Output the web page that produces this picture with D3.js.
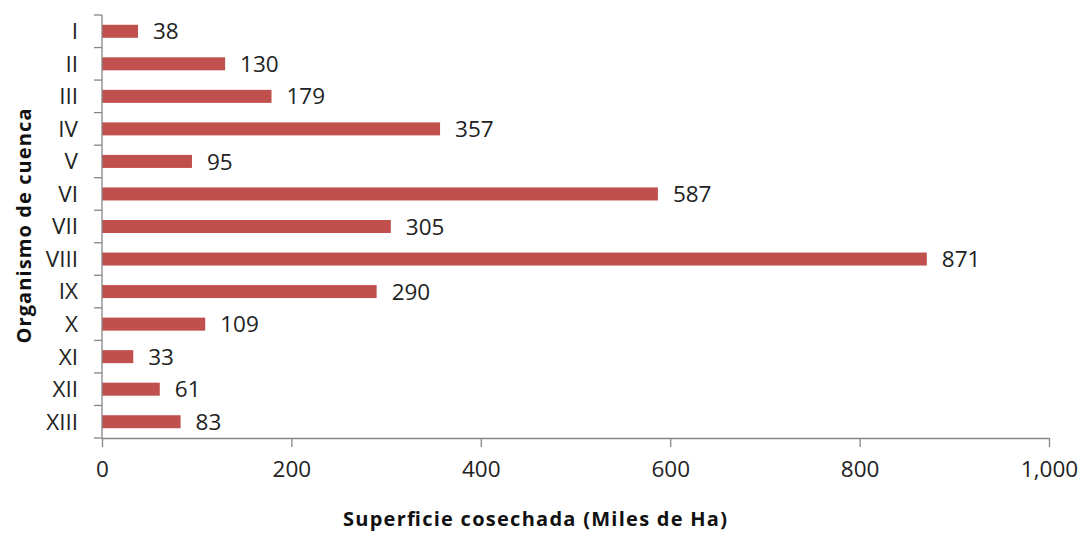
<!DOCTYPE html>
<html><head><meta charset="utf-8">
<script src="https://cdn.jsdelivr.net/npm/d3@7"></script>
<style>body{margin:0;background:#fff}svg{display:block}</style>
</head><body>
<svg id="c" width="1081" height="533"></svg>
<script>
const categories = ["I","II","III","IV","V","VI","VII","VIII","IX","X","XI","XII","XIII"];
const values = [38,130,179,357,95,587,305,871,290,109,33,61,83];
const xTicks = [0,200,400,600,800,1000];
const xTitle = "Superficie cosechada (Miles de Ha)";
const yTitle = "Organismo de cuenca";

const svg = d3.select("#c");
const m = {l:102, r:1049, t:15, b:438};
const x = d3.scaleLinear().domain([0,1000]).range([m.l, m.r]);
const y = d3.scaleBand().domain(categories).range([m.t, m.b]).paddingInner(0.6).paddingOuter(0.3);
const yb = d3.scaleBand().domain(categories).range([m.t, m.b]);
const font = "'Open Sans', sans-serif";
const axisColor = "#868686";
const fs = 22.5;

svg.append("g").selectAll("rect").data(values).join("rect")
  .attr("x", x(0)).attr("y", (d,i)=>y(categories[i]))
  .attr("width", d=>x(d)-x(0)).attr("height", y.bandwidth())
  .attr("fill", "#C0504D");

// x axis
const gx = svg.append("g").attr("transform", `translate(0,${m.b})`)
  .call(d3.axisBottom(x).tickValues(xTicks).tickSize(9).tickSizeOuter(0).tickPadding(14)
    .tickFormat(d3.format(",")));
gx.select(".domain").attr("stroke", axisColor).attr("stroke-width",1.3);
gx.selectAll(".tick line").attr("stroke", axisColor).attr("stroke-width",1.3);
gx.selectAll(".tick text").attr("font-family", font).attr("font-size", fs).attr("fill","#222");

// y axis
svg.append("line").attr("x1", m.l).attr("x2", m.l).attr("y1", m.t).attr("y2", m.b)
  .attr("stroke", axisColor).attr("stroke-width",1.3);
const bounds = categories.map(c=>yb(c)).concat([m.b]);
svg.append("g").selectAll("line").data(bounds).join("line")
  .attr("x1", m.l-8).attr("x2", m.l).attr("y1", d=>d).attr("y2", d=>d)
  .attr("stroke", axisColor).attr("stroke-width",1.3);
svg.append("g").selectAll("text").data(categories).join("text")
  .attr("x", 78).attr("y", c=>yb(c)+yb.bandwidth()/2).attr("dy","0.35em")
  .attr("text-anchor","end").attr("font-family", font).attr("font-size", fs).attr("fill","#222")
  .text(c=>c);

// data labels
svg.append("g").selectAll("text").data(values).join("text")
  .attr("x", d=>x(d)+15).attr("y", (d,i)=>y(categories[i])+y.bandwidth()/2).attr("dy","0.36em")
  .attr("font-family", font).attr("font-size", fs).attr("fill","#222")
  .text(d=>d);

// titles
svg.append("text").attr("x", 535).attr("y", 526).attr("text-anchor","middle")
  .attr("font-family", font).attr("font-weight","bold").attr("font-size", 20).attr("fill","#111")
  .attr("textLength", 384).attr("lengthAdjust","spacing")
  .text(xTitle);
svg.append("text").attr("transform","translate(31,226) rotate(-90)").attr("text-anchor","middle")
  .attr("font-family", font).attr("font-weight","bold").attr("font-size", 20).attr("fill","#111")
  .attr("textLength", 235).attr("lengthAdjust","spacing")
  .text(yTitle);
</script>
</body></html>
